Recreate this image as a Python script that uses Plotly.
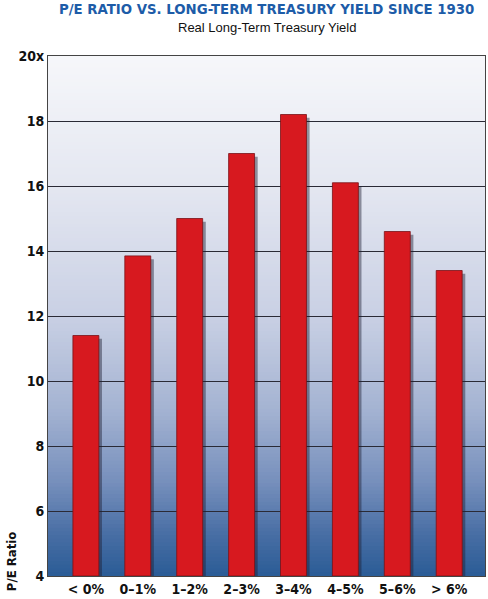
import plotly.graph_objects as go

# Data
categories = ["< 0%", "0\u20131%", "1\u20132%", "2\u20133%", "3\u20134%", "4\u20135%", "5\u20136%", "> 6%"]
pe_ratio = [11.4, 13.85, 15.0, 17.0, 18.2, 16.1, 14.6, 13.4]
tick_vals = [4, 6, 8, 10, 12, 14, 16, 18, 20]
tick_text = ["4", "6", "8", "10", "12", "14", "16", "18", "20x"]

TITLE_BLUE = "#1d5ca8"
BAR_RED = "#d7191f"
COND = "Liberation Sans Narrow, DejaVu Sans Condensed, Arial Narrow, sans-serif"

fig = go.Figure()

# drop shadow behind each bar (slightly right and lower)
fig.add_trace(go.Bar(
    x=categories, y=[v - 4 - 0.1 for v in pe_ratio], base=4,
    width=0.5, offset=-0.19,
    marker=dict(color="rgba(30,30,50,0.45)", line=dict(width=0)),
    hoverinfo="skip", showlegend=False,
))
fig.add_trace(go.Bar(
    x=categories, y=[v - 4 for v in pe_ratio], base=4,
    width=0.5, offset=-0.25,
    marker=dict(color=BAR_RED, line=dict(color="#7a1216", width=0.8)),
    customdata=pe_ratio, hovertemplate="%{x}: %{customdata}<extra></extra>",
    showlegend=False,
))

# vertical gradient background (white at top -> steel blue at bottom)
stops = [
    (0.00, (43, 92, 150)),
    (0.08, (72, 110, 164)),
    (0.18, (118, 143, 188)),
    (0.32, (164, 179, 210)),
    (0.50, (201, 208, 228)),
    (0.75, (228, 231, 241)),
    (1.00, (246, 247, 250)),
]


def grad_color(t):
    for (t0, c0), (t1, c1) in zip(stops[:-1], stops[1:]):
        if t0 <= t <= t1:
            f = (t - t0) / (t1 - t0)
            return "rgb(%d,%d,%d)" % tuple(round(a + (b - a) * f) for a, b in zip(c0, c1))
    return "rgb(%d,%d,%d)" % stops[-1][1]


n_bands = 140
for i in range(n_bands):
    y0 = i / n_bands
    y1 = (i + 1) / n_bands
    fig.add_shape(type="rect", xref="x domain", yref="y domain",
                  x0=0, x1=1, y0=y0, y1=y1 + 0.002,
                  fillcolor=grad_color((y0 + y1) / 2), line=dict(width=0), layer="below")

fig.add_annotation(
    text="<b>P/E RATIO VS. LONG-TERM TREASURY YIELD SINCE 1930</b>",
    xref="paper", yref="paper", x=0.5, y=1, yshift=58, xanchor="center", yanchor="top",
    showarrow=False, font=dict(family=COND, size=14.8, color=TITLE_BLUE),
)
fig.add_annotation(
    text="Real Long-Term Treasury Yield",
    xref="paper", yref="paper", x=0.5, y=1, yshift=38, xanchor="center", yanchor="top",
    showarrow=False, font=dict(family="Liberation Sans, Arial, sans-serif", size=13, color="#111"),
)
fig.add_annotation(
    text="<b>P/E Ratio</b>",
    xref="paper", yref="paper", x=-0.082, y=0.027, textangle=-90,
    xanchor="center", yanchor="middle",
    showarrow=False, font=dict(family=COND, size=13, color="#111"),
)

fig.update_layout(
    width=488, height=599,
    margin=dict(l=48, r=2, t=56, b=20),
    paper_bgcolor="white", plot_bgcolor="white",
    barmode="overlay", bargap=0.5,
    showlegend=False,
)
fig.update_xaxes(
    range=[-0.73, 7.69], showgrid=False, ticks="", zeroline=False,
    tickfont=dict(family=COND, size=14, color="#111", weight="bold"),
    showline=True, linecolor="#444", linewidth=1, mirror=True,
)
fig.update_yaxes(
    range=[4, 20], tickvals=tick_vals, ticktext=tick_text,
    showgrid=True, gridcolor="#2a2a35", gridwidth=1.2, zeroline=False, ticks="",
    tickfont=dict(family=COND, size=14, color="#111", weight="bold"),
    showline=True, linecolor="#444", linewidth=1, mirror=True,
)

# drop the default page margin so the figure fills the window exactly
fig.write_html("out.html", config={"displayModeBar": False},
               post_script="document.body.style.margin='0';")
